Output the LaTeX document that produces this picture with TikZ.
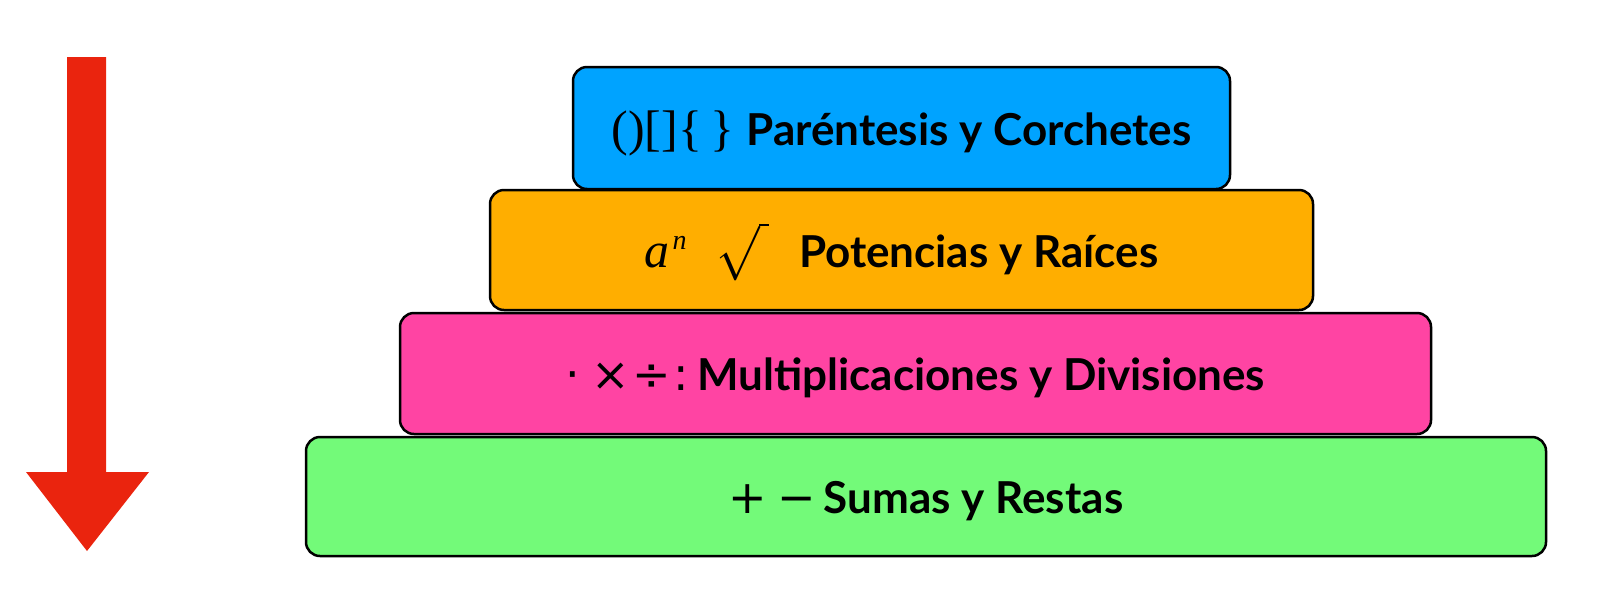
\documentclass[tikz,border=0pt]{standalone}
\usepackage{graphicx}
\usepackage{fontspec}
\setmainfont{Lato}
\newfontfamily\symserif{Liberation Serif}
\newfontfamily\symsans{DejaVu Sans}
\newfontfamily\lmmath{latinmodern-math.otf}
\definecolor{blueC}{RGB}{0,163,255}
\definecolor{orangeC}{RGB}{255,174,0}
\definecolor{pinkC}{RGB}{255,68,163}
\definecolor{greenC}{RGB}{115,250,121}
\definecolor{redC}{RGB}{234,36,14}
\begin{document}
\begin{tikzpicture}[x=1pt,y=-1pt,
  level/.style={draw=black, line width=2.5pt, rounded corners=14pt, inner sep=0pt,
    text height=34pt, text depth=0pt,
    font=\fontsize{44}{50}\selectfont\bfseries, text=black}]
\useasboundingbox (0,0) rectangle (1600,598);
\fill[redC] (67,57) -- (106,57) -- (106,472) -- (149,472) -- (87,551) -- (26,472) -- (67,472) -- cycle;
\node[level, fill=blueC, minimum width=657pt, minimum height=122pt] (paren) at (901.5,128)
  {{\symserif\mdseries\fontsize{50}{50}\selectfont ()[]\{\,\}}\hspace{12pt}Paréntesis y Corchetes};
\node[level, fill=orangeC, minimum width=823pt, minimum height=120pt] (pot) at (901.5,250)
  {{\symserif\mdseries\itshape\fontsize{50}{50}\selectfont a}\hspace{3pt}\raisebox{18pt}{\symserif\mdseries\itshape\fontsize{28}{28}\selectfont n}\hspace{30pt}\raisebox{38.5pt}{\lmmath\mdseries\fontsize{52}{52}\selectfont\scalebox{1}[1.05]{√}\kern-1pt\rule[2.2pt]{10pt}{2.5pt}}\hspace{30pt}Potencias y Raíces};
\node[level, fill=pinkC, minimum width=1031pt, minimum height=121pt] (mult) at (915.5,373.5)
  {{\symsans\mdseries\fontsize{46}{46}\selectfont ·\hspace{11pt}×\hspace{2pt}÷\hspace{3pt}:}\hspace{8pt}Multiplicaciones y Divisiones};
\node[level, fill=greenC, minimum width=1240pt, minimum height=119pt] (suma) at (926,496.5)
  {{\symsans\mdseries\fontsize{46}{46}\selectfont +\hspace{10pt}−}\hspace{8pt}Sumas y Restas};
\end{tikzpicture}
\end{document}
